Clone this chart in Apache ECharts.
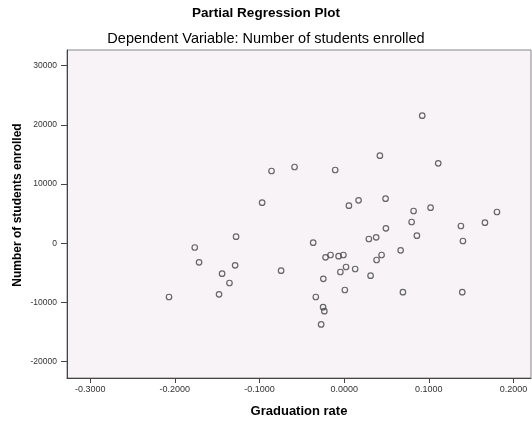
<!DOCTYPE html>
<html>
<head>
<meta charset="utf-8">
<script src="https://cdn.jsdelivr.net/npm/echarts@6/dist/echarts.min.js"></script>
<style>html,body{margin:0;padding:0;background:#fff;}#c{width:532px;height:425px;}</style>
</head>
<body>
<div id="c"></div>
<script>
const gradRate = [0.0922,0.0422,0.1111,-0.0858,-0.0586,-0.0106,-0.0969,0.0056,0.0170,0.0489,
  0.0820,0.1021,0.1805,0.0797,0.0493,0.1379,0.1663,0.0292,0.0378,0.0859,
  0.1403,-0.1277,-0.1765,-0.0366,-0.1714,-0.1442,-0.1288,-0.1355,-0.1478,-0.2069,
  -0.0745,-0.0220,-0.0161,-0.0066,-0.0009,-0.0045,0.0022,0.0130,-0.0246,0.0008,
  -0.0335,-0.0249,-0.0234,-0.0272,0.0442,0.0383,0.0667,0.0694,0.1395,0.0312];
const enrolled = [21554,14797,13514,12213,12889,12382,6858,6351,7264,7534,
  5456,6014,5287,3598,2534,2922,3480,726,1014,1284,
  389,1115,-709,101,-3209,-5135,-3716,-6706,-8615,-9071,
  -4628,-2365,-1976,-2179,-1976,-4848,-4003,-4341,-5997,-7889,
  -9071,-10794,-11470,-13699,-1976,-2821,-1182,-8260,-8260,-5473];
const xTicks = [-0.3,-0.2,-0.1,0,0.1,0.2];
const yTicks = [-20000,-10000,0,10000,20000,30000];

const pts = gradRate.map((x,i)=>[x,enrolled[i]]);
const chart = echarts.init(document.getElementById('c'), null, {renderer:'canvas'});
const font = 'Liberation Sans, Arial, sans-serif';
chart.setOption({
  animation:false,
  backgroundColor:'#fff',
  title:[
    {text:'Partial Regression Plot', left:'center', top:6, padding:0,
     textStyle:{fontFamily:font, fontSize:13.5, fontWeight:'bold', color:'#000'}},
    {text:'Dependent Variable: Number of students enrolled', left:'center', top:31, padding:0,
     textStyle:{fontFamily:font, fontSize:14.5, fontWeight:'normal', color:'#000'}}
  ],
  grid:{left:67, top:50, right:1, bottom:47, show:true, backgroundColor:'#F7F3F7', borderColor:'#888', borderWidth:1},
  xAxis:{type:'value', min:-0.3274, max:0.2207,
    axisLine:{show:true, onZero:false, lineStyle:{color:'#444', width:1}},
    axisTick:{show:true, length:5, customValues:xTicks, lineStyle:{color:'#444'}},
    axisLabel:{customValues:xTicks, margin:7, fontFamily:font, fontSize:9, color:'#333',
      formatter:v=>v.toFixed(4)},
    splitLine:{show:false},
    name:'Graduation rate', nameLocation:'middle', nameGap:27,
    nameTextStyle:{fontFamily:font, fontSize:13, fontWeight:'bold', color:'#000'}
  },
  yAxis:{type:'value', min:-22753, max:32652,
    axisLine:{show:true, onZero:false, lineStyle:{color:'#444', width:1}},
    axisTick:{show:true, length:6, customValues:yTicks, lineStyle:{color:'#444'}},
    axisLabel:{customValues:yTicks, margin:10, fontFamily:font, fontSize:8.5, color:'#333',
      formatter:v=>String(v)},
    splitLine:{show:false}
  },
  graphic:[{type:'text', x:18, y:205, rotation:Math.PI/2,
    style:{text:'Number of students enrolled', fontFamily:font, fontSize:12, fontWeight:'bold', fill:'#000',
      align:'center', verticalAlign:'middle'}}],
  series:[{type:'scatter', data:pts, symbol:'circle', symbolSize:5.5,
    itemStyle:{color:'rgba(0,0,0,0)', borderColor:'#444', borderWidth:1.2}}]
});
</script>
</body>
</html>
